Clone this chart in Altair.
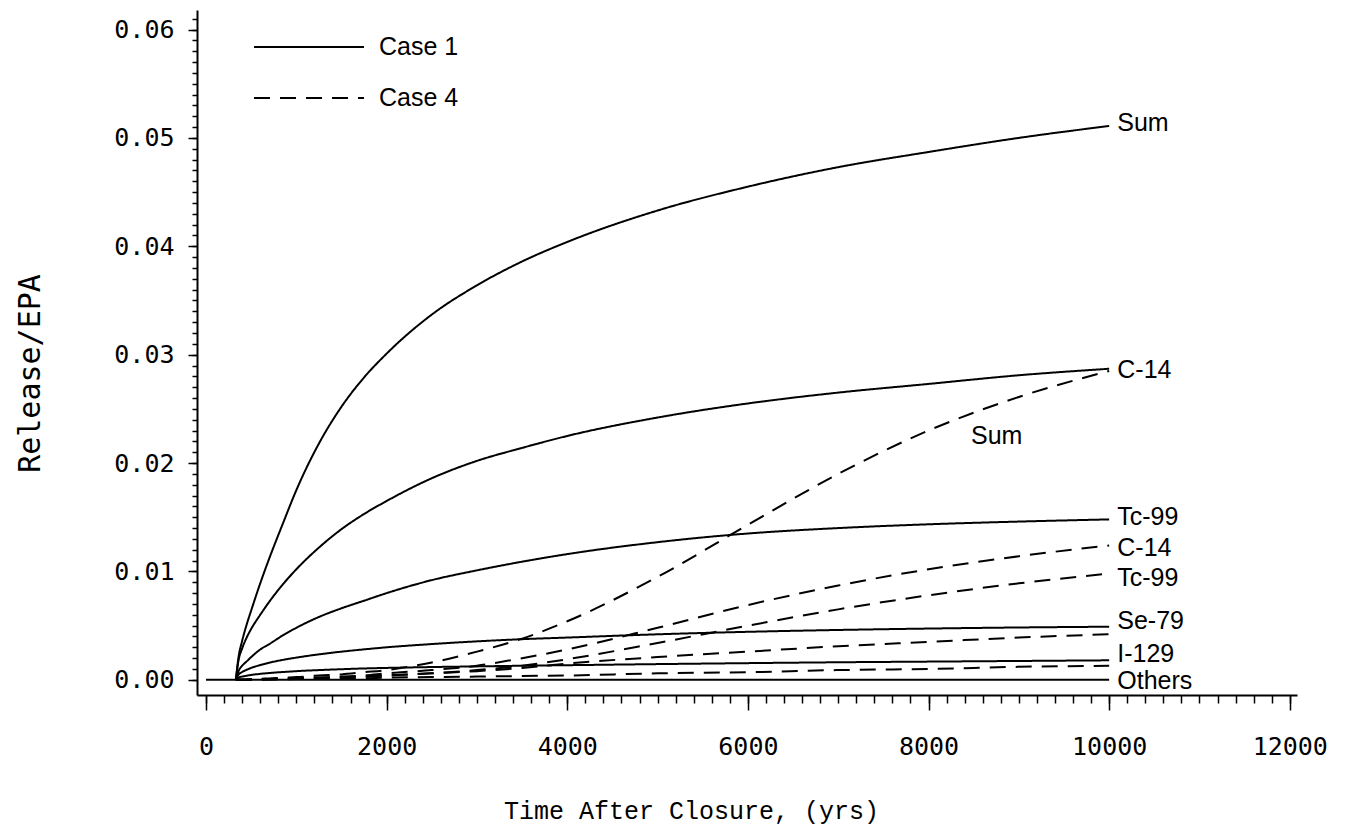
import altair as alt
import pandas as pd

# ---------------- data ----------------
time_grid = [330, 360, 400, 450, 500, 600, 700, 850, 1000, 1250, 1500, 1750, 2000,
             2500, 3000, 3500, 4000, 5000, 6000, 7000, 8000, 9000, 10000]

case1_sum = [0.0, 0.0021, 0.0036, 0.0051, 0.0064, 0.0089, 0.0112, 0.0144, 0.0175, 0.0218, 0.0252, 0.0279, 0.0301,
             0.0337, 0.0364, 0.0386, 0.0404, 0.0433, 0.0455, 0.0473, 0.0487, 0.0500, 0.0511]
case1_c14 = [0.0, 0.0018, 0.0029, 0.0039, 0.0047, 0.0060, 0.0072, 0.0088, 0.0102, 0.0122, 0.0139, 0.0153, 0.0165,
             0.0186, 0.0202, 0.0214, 0.0225, 0.0242, 0.0255, 0.0265, 0.0273, 0.0281, 0.0287]
case1_tc99 = [0.0, 0.0008, 0.0013, 0.0017, 0.0021, 0.0028, 0.0033, 0.0041, 0.0048, 0.0058, 0.0066, 0.0073, 0.0080,
              0.0092, 0.0101, 0.0109, 0.0116, 0.0127, 0.0135, 0.0140, 0.01435, 0.0146, 0.0148]
case1_se79 = [0.0, 0.00048, 0.00072, 0.00093, 0.0011, 0.00136, 0.00158, 0.00184, 0.00205, 0.00235, 0.0026, 0.00281,
              0.0030, 0.0033, 0.00355, 0.00375, 0.0039, 0.0042, 0.00443, 0.0046, 0.00473, 0.00483, 0.0049]
case1_i129 = [0.0, 0.0002, 0.0003, 0.00038, 0.00045, 0.00055, 0.00063, 0.00072, 0.0008, 0.0009, 0.00098, 0.00105,
              0.0011, 0.00118, 0.00124, 0.0013, 0.00135, 0.00145, 0.00154, 0.00162, 0.00168, 0.00174, 0.0018]

case4_sum = [0.0, 0.0, 0.0, 0.00003, 0.00005, 0.0001, 0.00013, 0.0002, 0.00025, 0.0004, 0.0005, 0.0007, 0.0009,
             0.0016, 0.0026, 0.0038, 0.0054, 0.0095, 0.0143, 0.0190, 0.0230, 0.0261, 0.0285]
case4_c14 = [0.0, 0.0, 0.0, 0.00002, 0.00003, 0.00005, 0.00008, 0.0001, 0.00015, 0.0002, 0.0003, 0.0004, 0.0006,
             0.0009, 0.0013, 0.0020, 0.0028, 0.0048, 0.0069, 0.0087, 0.0102, 0.0114, 0.0124]
case4_tc99 = [0.0, 0.0, 0.0, 0.00001, 0.00002, 0.00004, 0.00006, 0.0001, 0.00012, 0.0002, 0.00025, 0.0003, 0.0004,
              0.0006, 0.0009, 0.0013, 0.0019, 0.0034, 0.0050, 0.0065, 0.0078, 0.0089, 0.0098]
case4_se79 = [0.0, 0.0, 0.0, 0.00001, 0.00002, 0.00004, 0.00006, 0.0001, 0.00012, 0.0002, 0.00025, 0.0003, 0.0004,
              0.0006, 0.0008, 0.0011, 0.0015, 0.0021, 0.0026, 0.0031, 0.0035, 0.0039, 0.0042]
case4_i129 = [0.0, 0.0, 0.0, 0.0, 0.00001, 0.00002, 0.00003, 0.00005, 0.00007, 0.0001, 0.00012, 0.00015, 0.0002,
              0.00025, 0.0003, 0.00035, 0.0004, 0.0006, 0.0007, 0.0009, 0.0010, 0.0012, 0.0013]

others_time = [0, 10000]
case1_others = [0.0, 0.0]

label_text = ["Sum", "C-14", "Tc-99", "C-14", "Tc-99", "Se-79", "I-129", "Others", "Sum"]
label_time = [10090, 10090, 10090, 10090, 10090, 10090, 10090, 10090, 8470]
label_value = [0.0514, 0.0286, 0.0150, 0.0122, 0.0094, 0.0054, 0.0024, -0.0001, 0.0225]

x_major = [0, 2000, 4000, 6000, 8000, 10000, 12000]
x_minor = list(range(0, 12001, 200))
y_major = [0.0, 0.01, 0.02, 0.03, 0.04, 0.05, 0.06]
y_minor = [round(i / 1000, 3) for i in range(0, 62)]

# ---------------- table ----------------
rows = []
series = [
    ("Case 1", "Sum", time_grid, case1_sum),
    ("Case 1", "C-14", time_grid, case1_c14),
    ("Case 1", "Tc-99", time_grid, case1_tc99),
    ("Case 1", "Se-79", time_grid, case1_se79),
    ("Case 1", "I-129", time_grid, case1_i129),
    ("Case 1", "Others", others_time, case1_others),
    ("Case 4", "Sum", time_grid, case4_sum),
    ("Case 4", "C-14", time_grid, case4_c14),
    ("Case 4", "Tc-99", time_grid, case4_tc99),
    ("Case 4", "Se-79", time_grid, case4_se79),
    ("Case 4", "I-129", time_grid, case4_i129),
]
for case, nuc, ts, vs in series:
    for t, v in zip(ts, vs):
        rows.append({"case": case, "series": case + " " + nuc, "t": t, "v": v})
df = pd.DataFrame(rows)
labels_df = pd.DataFrame({"label": label_text, "t": label_time, "v": label_value})

x_scale = alt.Scale(domain=[-100, 12080], nice=False, zero=False)
y_scale = alt.Scale(domain=[-0.0014, 0.0618], nice=False, zero=False)

tick_font = "DejaVu Sans Mono"
text_font = "Liberation Sans"

minor = alt.Chart(df).mark_point(opacity=0).encode(
    x=alt.X("t:Q", scale=x_scale, axis=alt.Axis(
        orient="bottom", values=x_minor, labels=False, domain=False, grid=False,
        tickSize=8, tickWidth=1.5, tickColor="black", title=None)),
    y=alt.Y("v:Q", scale=y_scale, axis=alt.Axis(
        orient="left", values=y_minor, labels=False, domain=False, grid=False,
        tickSize=5, tickWidth=1.5, tickColor="black", title=None)),
)

lines = alt.Chart(df).mark_line(color="black", strokeWidth=2, interpolate="monotone").encode(
    x=alt.X("t:Q", scale=x_scale, axis=alt.Axis(
        orient="bottom", values=x_major, format="d", grid=False,
        tickSize=15, tickWidth=1.5, tickColor="black",
        domainColor="black", domainWidth=2,
        labelFont=tick_font, labelFontSize=25, labelColor="black", labelPadding=24,
        labelFlush=False,
        title="Time After Closure, (yrs)", titleFont="Liberation Mono", titleFontSize=25,
        titleFontWeight="normal", titleColor="black",
        titleX=494, titleY=115, titleAlign="center", titleBaseline="middle")),
    y=alt.Y("v:Q", scale=y_scale, axis=alt.Axis(
        orient="left", values=y_major, format=".2f", grid=False,
        tickSize=9, tickWidth=1.5, tickColor="black",
        domainColor="black", domainWidth=2,
        labelFont=tick_font, labelFontSize=25, labelColor="black", labelPadding=14,
        labelFlush=False,
        title="Release/EPA", titleFont=tick_font, titleFontSize=30,
        titleFontWeight="normal", titleColor="black",
        titleX=-167, titleY=363, titleAlign="center", titleBaseline="middle", titleAngle=270)),
    strokeDash=alt.StrokeDash("case:N", scale=alt.Scale(domain=["Case 1", "Case 4"], range=[[1, 0], [16, 10]]),
                              legend=alt.Legend(
                                  title=None, orient="none", legendX=56, legendY=25, padding=0,
                                  symbolType="stroke", symbolSize=12100, symbolStrokeWidth=2,
                                  symbolStrokeColor="black", clipHeight=24, rowPadding=26,
                                  labelOffset=14, labelFont=text_font, labelFontSize=25,
                                  labelColor="black")),
    detail="series:N",
)

texts = alt.Chart(labels_df).mark_text(
    align="left", baseline="middle", font=text_font, fontSize=25, color="black"
).encode(
    x=alt.X("t:Q", scale=x_scale, axis=None),
    y=alt.Y("v:Q", scale=y_scale, axis=None),
    text="label:N",
)

chart = alt.layer(minor, lines, texts).resolve_axis(x="independent", y="independent").properties(
    width=1100, height=685,
    autosize=alt.AutoSizeParams(type="none"),
    padding={"left": 197, "top": 10, "right": 52, "bottom": 135},
    background="white",
).configure_view(stroke=None)

chart.save("out.html", embed_options={"renderer": "svg", "actions": False})
